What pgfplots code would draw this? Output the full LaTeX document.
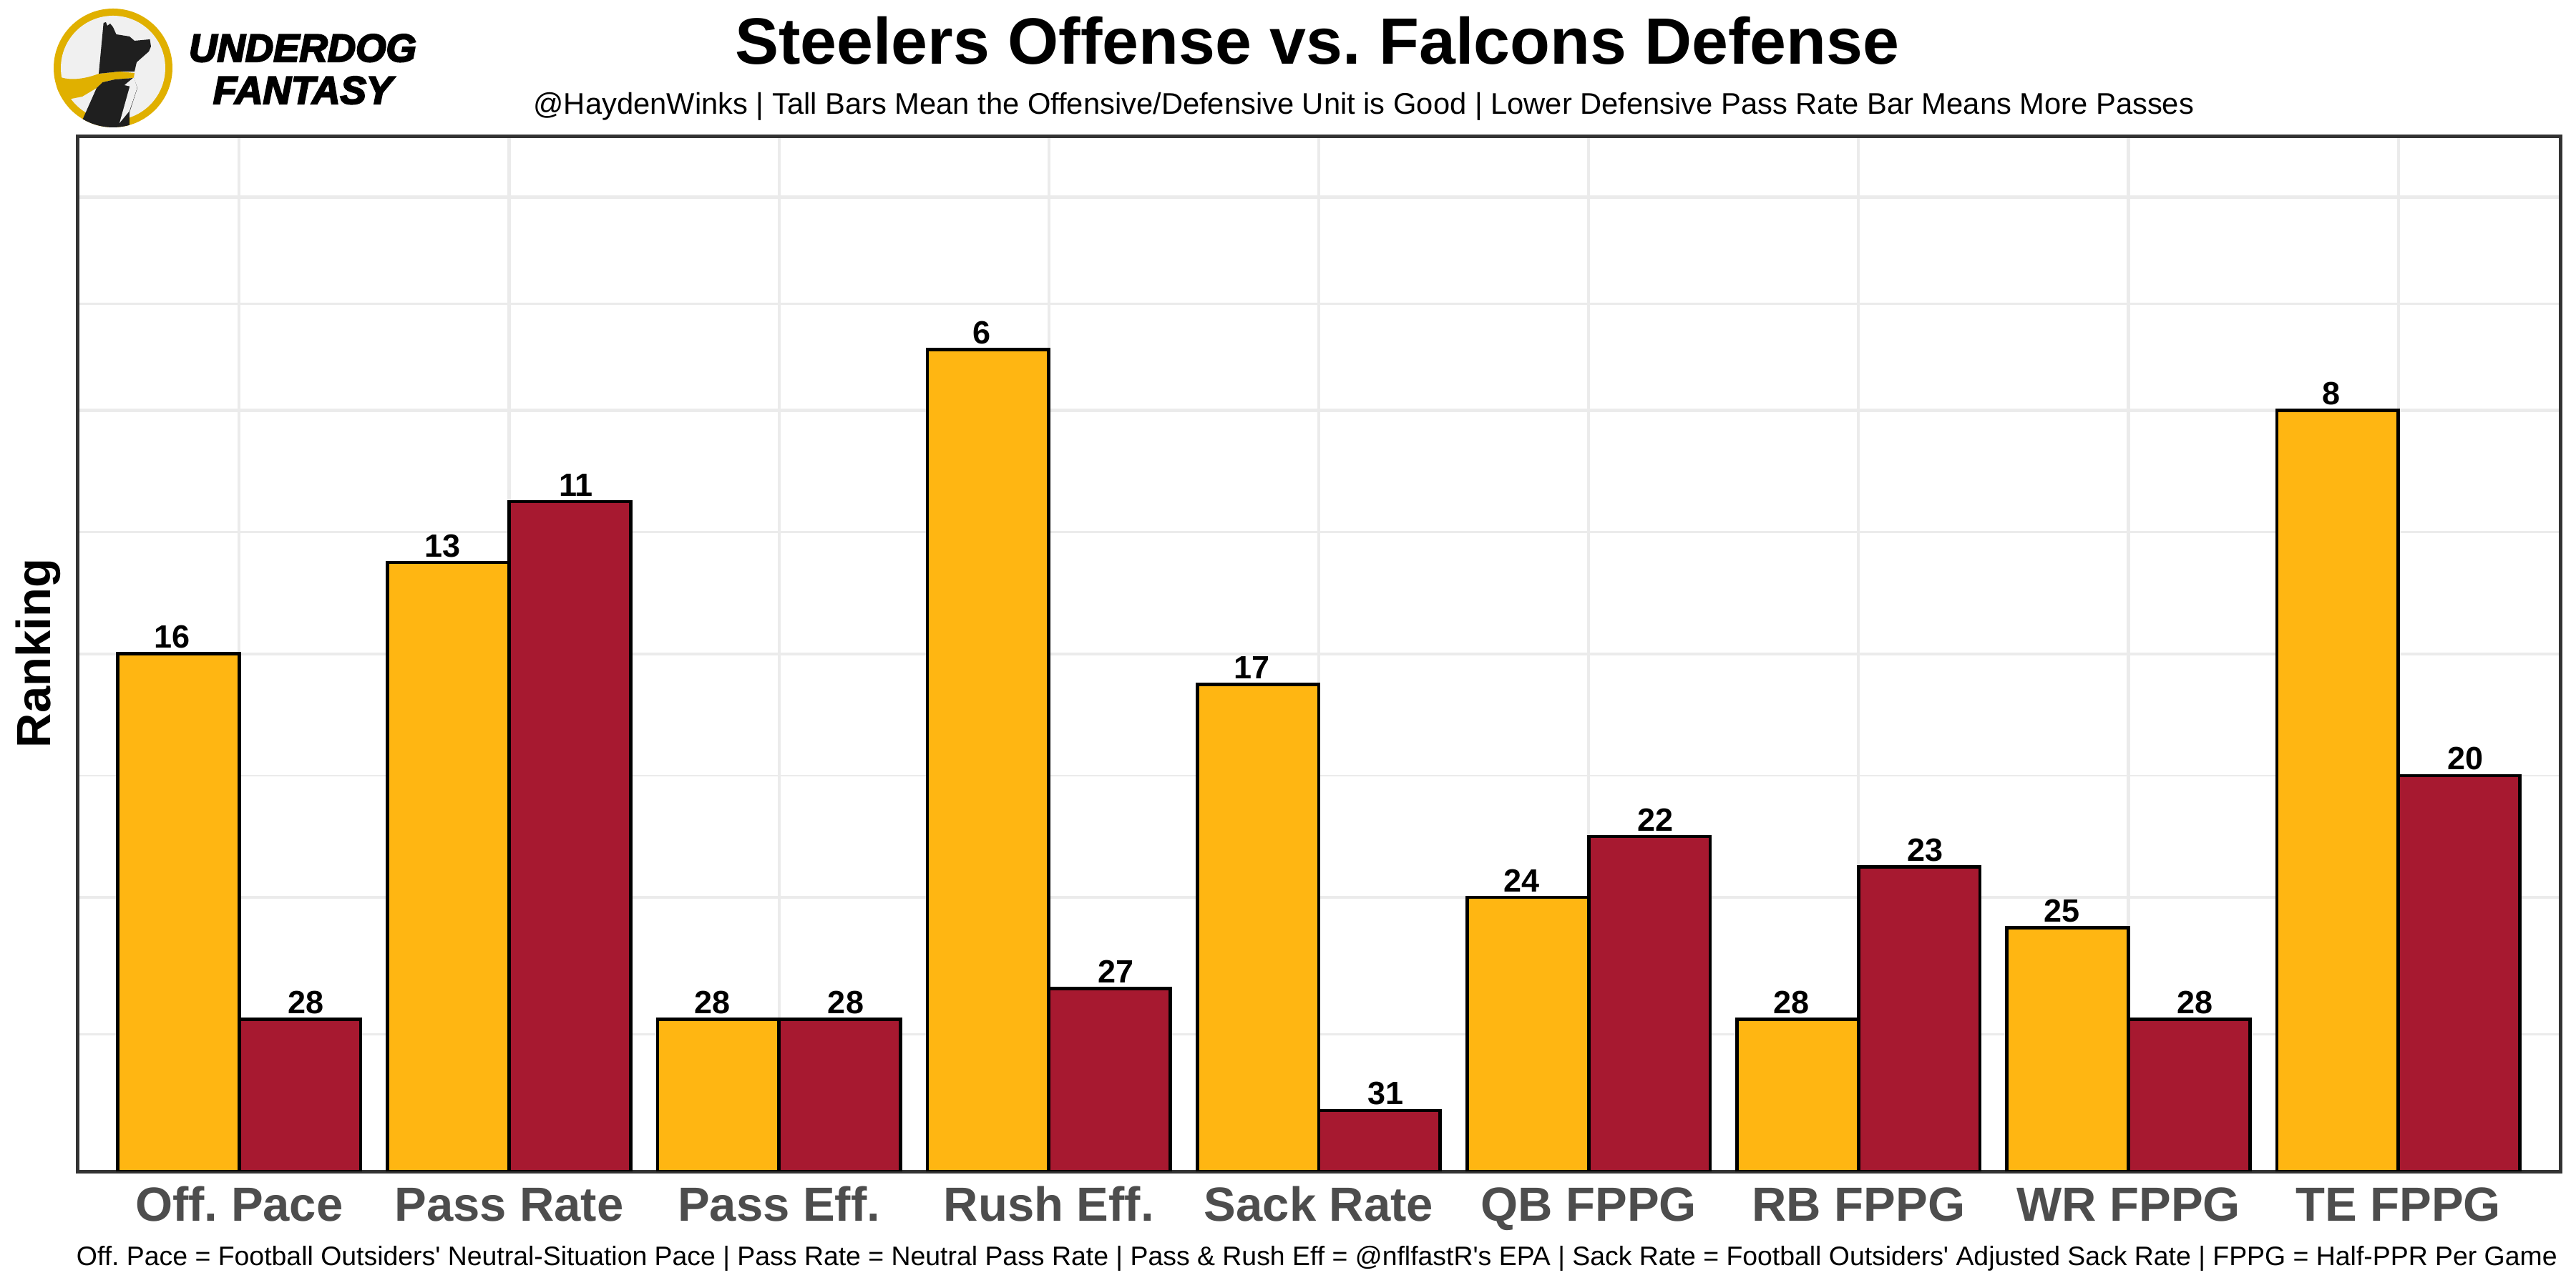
\documentclass[border=0pt]{standalone}
\usepackage{fontspec}
\setmainfont{Liberation Sans}
\newfontfamily\plainfont{Liberation Sans}
\newfontfamily\logofont[FakeBold=4]{Liberation Sans Bold Italic}
\usepackage{pgfplots}
\usepackage{pgfplotstable}
\pgfplotsset{compat=1.18}
\frenchspacing

\definecolor{steelgold}{HTML}{FFB612}
\definecolor{falconred}{HTML}{A71930}
\definecolor{gridgrey}{HTML}{EBEBEB}
\definecolor{panelline}{HTML}{333333}
\definecolor{ticktext}{HTML}{4D4D4D}
\definecolor{ringgold}{HTML}{E0B000}

% height = 33 - rank, so the best ranked unit has the tallest bar
\pgfplotstableread{
x height rank
1 17 16
2 20 13
3 5 28
4 27 6
5 16 17
6 9 24
7 5 28
8 8 25
9 25 8
}\offense
\pgfplotstableread{
x height rank
1 5 28
2 22 11
3 5 28
4 6 27
5 2 31
6 11 22
7 10 23
8 5 28
9 13 20
}\defense

\newcommand{\fs}[1]{\fontsize{#1bp}{#1bp}\selectfont}

\begin{document}
\begin{tikzpicture}
\path[use as bounding box] (0,0) rectangle (720bp,360bp);
\begin{axis}[
    at={(21.6bp,32.6bp)},
    anchor=south west,
    scale only axis,
    width=694bp,
    height=289.3bp,
    xmin=0.4, xmax=9.6,
    ymin=0, ymax=34,
    ybar=0pt,
    bar width=0.45,
    xtick={1,...,9},
    xticklabels={Off. Pace,Pass Rate,Pass Eff.,Rush Eff.,Sack Rate,QB FPPG,RB FPPG,WR FPPG,TE FPPG},
    ytick={0,9,17,25,32},
    minor ytick={4.5,13,21,28.5},
    yticklabels={},
    major tick length=0pt,
    minor tick length=0pt,
    xmajorgrids=true,
    ymajorgrids=true,
    yminorgrids=true,
    major grid style={gridgrey,line width=0.85bp},
    minor grid style={gridgrey,line width=0.5bp},
    axis line style={panelline,line width=1bp},
    xticklabel style={anchor=base,yshift=-13.8bp,font=\fs{13.4}\bfseries,text=ticktext},
    point meta=explicit,
    nodes near coords,
    nodes near coords style={font=\fs{9}\bfseries,text=black,anchor=base,yshift=1.6bp},
    /pgf/number format/assume math mode=true,
]
\addplot[draw=black,line width=0.95bp,fill=steelgold,
    nodes near coords style={xshift=-1.7bp}]
    table[x=x,y=height,meta=rank] {\offense};
\addplot[draw=black,line width=0.95bp,fill=falconred,
    nodes near coords style={xshift=1.7bp}]
    table[x=x,y=height,meta=rank] {\defense};
\end{axis}

\begin{scope}[shift={(0,360bp)},x=0.2bp,y=-0.2bp]
% titles and notes
\node[anchor=base,inner sep=0] at (1841,90) {\fs{18.3}\bfseries Steelers Offense vs. Falcons Defense};
\node[anchor=base,inner sep=0] at (1906,160) {\fs{8.34}@HaydenWinks | Tall Bars Mean the Offensive/Defensive Unit is Good | Lower Defensive Pass Rate Bar Means More Passes};
\node[anchor=base west,inner sep=0] at (106,1769) {\plainfont\fs{7.48}Off. Pace = Football Outsiders' Neutral-Situation Pace | Pass Rate = Neutral Pass Rate | Pass \& Rush Eff = @nflfastR's EPA | Sack Rate = Football Outsiders' Adjusted Sack Rate | FPPG = Half-PPR Per Game};
\node[anchor=base,inner sep=0,rotate=90] at (70,913) {\fs{13.4}\bfseries Ranking};
% logo
\fill[ringgold] (158,95) circle[radius=83];
\fill[black!6] (158,95) circle[radius=73];
\begin{scope}
\clip (158,95) circle[radius=83];
\fill[ringgold] (85,108) .. controls (100,113) and (120,110) .. (138,103) -- (166,100) -- (188,102) -- (187,109)
    -- (161,111) -- (143.5,115) -- (135,123) -- (115,135) -- (95,139) -- (78,125) -- cycle;
\fill[black!88] (144.7,32) -- (148,31) -- (150,36) -- (154,33) -- (158,38) -- (162.5,48) -- (181,51) -- (188,57)
    -- (209.5,55) -- (211,65) -- (208,72) -- (191,87) -- (188,100) -- (166,100) -- (138,103) -- cycle;
\fill[black!88] (143.5,115) -- (161,111) -- (187,109) -- (192,123) -- (181,157) -- (181,180) -- (115,180) -- (115,168) -- (135,123) -- cycle;
\fill[black!6] (186.6,108.5) -- (174,119) -- (181.4,120.7) -- (167,172) -- (181,155) -- (191.7,123) -- (187.7,110) -- cycle;
\end{scope}
\node[anchor=base,inner sep=0] at (423,86) {\logofont\fs{10.9}UNDERDOG};
\node[anchor=base,inner sep=0] at (423,145) {\logofont\fs{10.9}FANTASY};
\end{scope}
\end{tikzpicture}
\end{document}
